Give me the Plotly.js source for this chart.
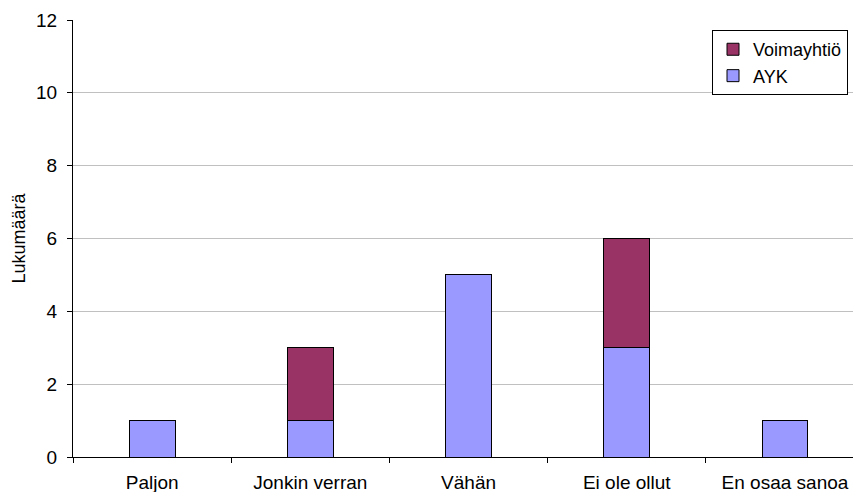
<!DOCTYPE html>
<html>
<head>
<meta charset="utf-8">
<script src="https://cdn.plot.ly/plotly-3.0.1.min.js"></script>
<style>
  html, body { margin: 0; padding: 0; background: #ffffff; }
  #chart { width: 853px; height: 492px; }
</style>
</head>
<body>
<div id="chart"></div>
<script>
// Answer categories along the x axis
const categories = ['Paljon', 'Jonkin verran', 'Vähän', 'Ei ole ollut', 'En osaa sanoa'];

// Counts per respondent group (stacked)
const aykValues = [1, 1, 5, 3, 1];
const voimayhtioValues = [0, 2, 0, 3, 0];

// Y axis ticks
const yTicks = [0, 2, 4, 6, 8, 10, 12];

const barLine = { color: '#000000', width: 1 };

const traces = [
  {
    type: 'bar',
    name: 'AYK',
    x: categories,
    y: aykValues,
    width: 0.29,
    marker: { color: '#9999ff', line: barLine },
    hoverinfo: 'x+y+name'
  },
  {
    type: 'bar',
    name: 'Voimayhtiö',
    x: categories,
    y: voimayhtioValues,
    width: 0.29,
    marker: { color: '#993366', line: barLine },
    hoverinfo: 'x+y+name'
  }
];

const layout = {
  width: 853,
  height: 492,
  margin: { l: 73, r: 0, t: 20, b: 35 },
  paper_bgcolor: '#ffffff',
  plot_bgcolor: '#ffffff',
  barmode: 'stack',
  font: { family: 'Liberation Sans, Arial, sans-serif', size: 19, color: '#000000' },
  showlegend: true,
  legend: {
    x: 0.9936, y: 0.977,
    xanchor: 'right', yanchor: 'top',
    traceorder: 'reversed',
    bordercolor: '#000000', borderwidth: 1,
    bgcolor: '#ffffff',
    font: { size: 18 },
    itemwidth: 30,
    tracegroupgap: 0
  },
  xaxis: {
    type: 'category',
    range: [-0.5, 4.43],
    tickson: 'boundaries',
    ticks: 'outside',
    ticklen: 5,
    tickcolor: '#000000',
    showline: true,
    linecolor: '#000000',
    linewidth: 1,
    showgrid: false,
    zeroline: false,
    ticklabelstandoff: 8,
    tickfont: { size: 19 }
  },
  yaxis: {
    range: [0, 12],
    tickvals: yTicks,
    ticktext: yTicks.map(String),
    ticks: 'outside',
    ticklen: 5,
    tickcolor: '#000000',
    showline: true,
    linecolor: '#000000',
    linewidth: 1,
    showgrid: true,
    gridcolor: '#c0c0c0',
    gridwidth: 1,
    zeroline: false,
    ticklabelstandoff: 6,
    tickfont: { size: 19 },
    title: { text: 'Lukumäärä', font: { size: 18 }, standoff: 5 }
  }
};

Plotly.newPlot('chart', traces, layout, { displayModeBar: false, staticPlot: true });
</script>
</body>
</html>
